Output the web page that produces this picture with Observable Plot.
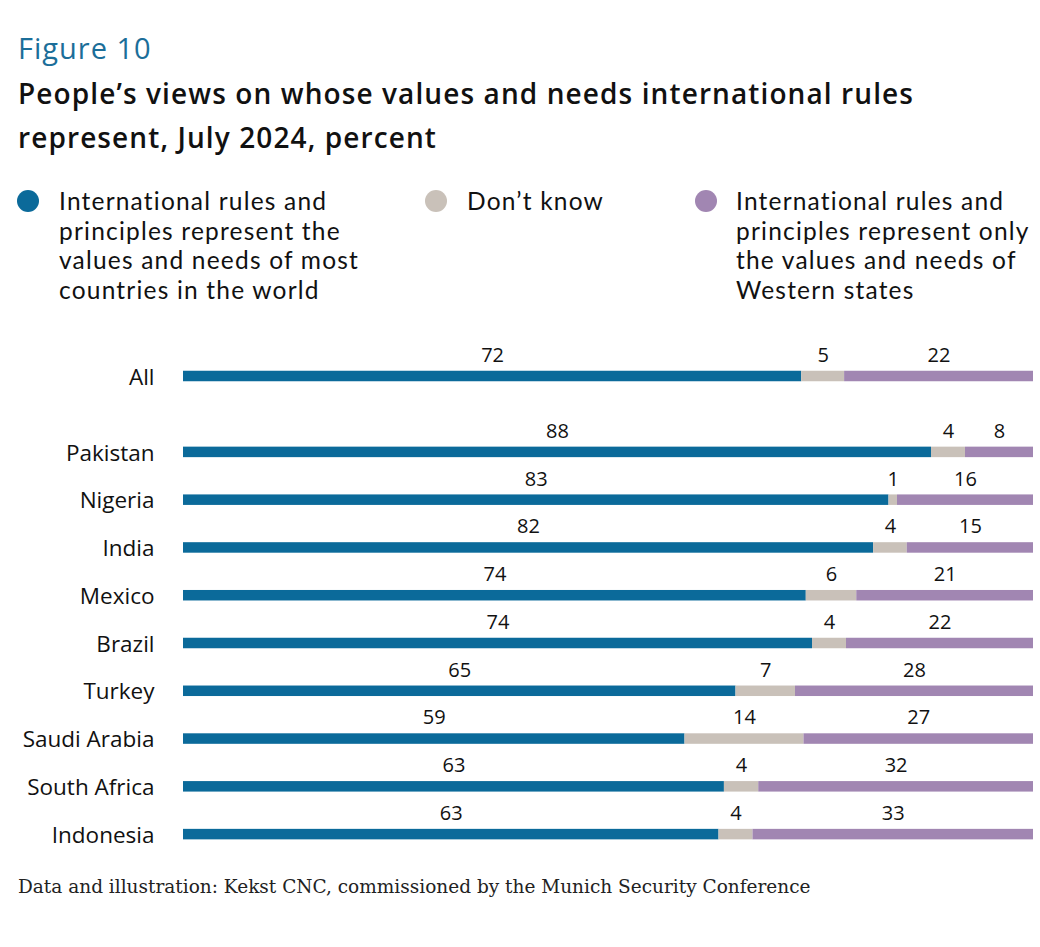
<!DOCTYPE html>
<html>
<head>
<meta charset="utf-8">
<script src="https://cdn.jsdelivr.net/npm/d3@7"></script>
<script src="https://cdn.jsdelivr.net/npm/@observablehq/plot@0.6"></script>
<style>
  html, body { margin: 0; padding: 0; background: #fff; }
  body { width: 1040px; height: 947px; position: relative; font-family: "Open Sans", sans-serif; color: #111; }
  .abs { position: absolute; white-space: nowrap; }
  #fig { left: 18px; top: 27px; font-size: 29px; letter-spacing: 1px; color: #1b6e99; line-height: 42px; }
  #title { left: 18px; top: 71px; font-size: 28px; font-weight: 600; letter-spacing: 1.1px; line-height: 44px; }
  .leg { top: 186px; font-family: Lato, sans-serif; font-size: 24.5px; letter-spacing: 1.2px; line-height: 29.5px; }
  .dot { width: 22px; height: 22px; border-radius: 50%; position: absolute; top: 4px; }
  .legtext { position: absolute; top: 0; white-space: nowrap; }
  #caption { left: 18px; top: 876px; font-family: "DejaVu Serif", serif; font-size: 18.5px; color: #222; }
  #p1 { left: 0; top: 330px; }
  #p2 { left: 0; top: 405px; }
</style>
</head>
<body>
<div id="fig" class="abs">Figure 10</div>
<div id="title" class="abs">People’s views on whose values and needs international rules<br>represent, July 2024, percent</div>
<div id="legend"></div>
<div id="p1" class="abs"></div>
<div id="p2" class="abs"></div>
<div id="caption" class="abs">Data and illustration: Kekst CNC, commissioned by the Munich Security Conference</div>
<script>
// ---- data ----
const answers = [
  "International rules and principles represent the values and needs of most countries in the world",
  "Don’t know",
  "International rules and principles represent only the values and needs of Western states"
];
const legendLines = [
  ["International rules and", "principles represent the", "values and needs of most", "countries in the world"],
  ["Don’t know"],
  ["International rules and", "principles represent only", "the values and needs of", "Western states"]
];
const colors = ["#0b6a9a", "#c9c1b9", "#a186b2"];

const totalLabel = ["All"];
const totalValues = [[72, 5, 22]];

const countries = ["Pakistan", "Nigeria", "India", "Mexico", "Brazil", "Turkey", "Saudi Arabia", "South Africa", "Indonesia"];
const mostCountries = [88, 83, 82, 74, 74, 65, 59, 63, 63];
const dontKnow      = [4, 1, 4, 6, 4, 7, 14, 4, 4];
const westernOnly   = [8, 16, 15, 21, 22, 28, 27, 32, 33];

// ---- legend ----
const legendPos = [[17, 59], [425, 467], [695, 736]];
const legend = document.getElementById("legend");
legendLines.forEach((lines, i) => {
  const item = document.createElement("div");
  item.className = "abs leg";
  item.style.left = "0px";
  const dot = document.createElement("div");
  dot.className = "dot";
  dot.style.left = legendPos[i][0] + "px";
  dot.style.background = colors[i];
  const txt = document.createElement("div");
  txt.className = "legtext";
  txt.style.left = legendPos[i][1] + "px";
  txt.innerHTML = lines.join("<br>");
  item.appendChild(dot);
  item.appendChild(txt);
  legend.appendChild(item);
});

// ---- tables ----
function toRows(labels, seriesList) {
  const rows = [];
  labels.forEach((lab, i) => {
    seriesList.forEach((s, k) => rows.push({row: lab, answer: answers[k], value: s[i]}));
  });
  return rows;
}
const allRows = toRows(totalLabel, [totalValues.map(d => d[0]), totalValues.map(d => d[1]), totalValues.map(d => d[2])]);
const countryRows = toRows(countries, [mostCountries, dontKnow, westernOnly]);

function makePlot(rows, domain, height, marginTop) {
  const step = (height - marginTop) / domain.length;
  const inset = (step - 10.5) / 2;
  return Plot.plot({
    width: 1040,
    height,
    marginLeft: 183,
    marginRight: 7,
    marginTop,
    marginBottom: 0,
    style: {fontFamily: "'Open Sans', sans-serif", fontSize: "20px", color: "#111", background: "white", overflow: "visible"},
    x: {axis: null, domain: [0, 1]},
    y: {domain, padding: 0, round: false, axis: null},
    color: {domain: answers, range: colors},
    marks: [
      Plot.axisY({tickSize: 0, tickPadding: 29, fontSize: 22.5, label: null, fill: "#111", dy: 1}),
      Plot.barX(rows, Plot.stackX({
        x: "value", y: "row", fill: "answer", offset: "normalize", order: null,
        insetTop: inset, insetBottom: inset
      })),
      Plot.text(rows, Plot.stackX({
        x: "value", y: "row", z: "answer", offset: "normalize", order: null,
        text: d => String(d.value), dy: -21, fontSize: 20, fill: "#111"
      }))
    ]
  });
}

document.getElementById("p1").appendChild(makePlot(allRows, totalLabel, 70, 22));
document.getElementById("p2").appendChild(makePlot(countryRows, countries, 453, 23));
</script>
</body>
</html>
